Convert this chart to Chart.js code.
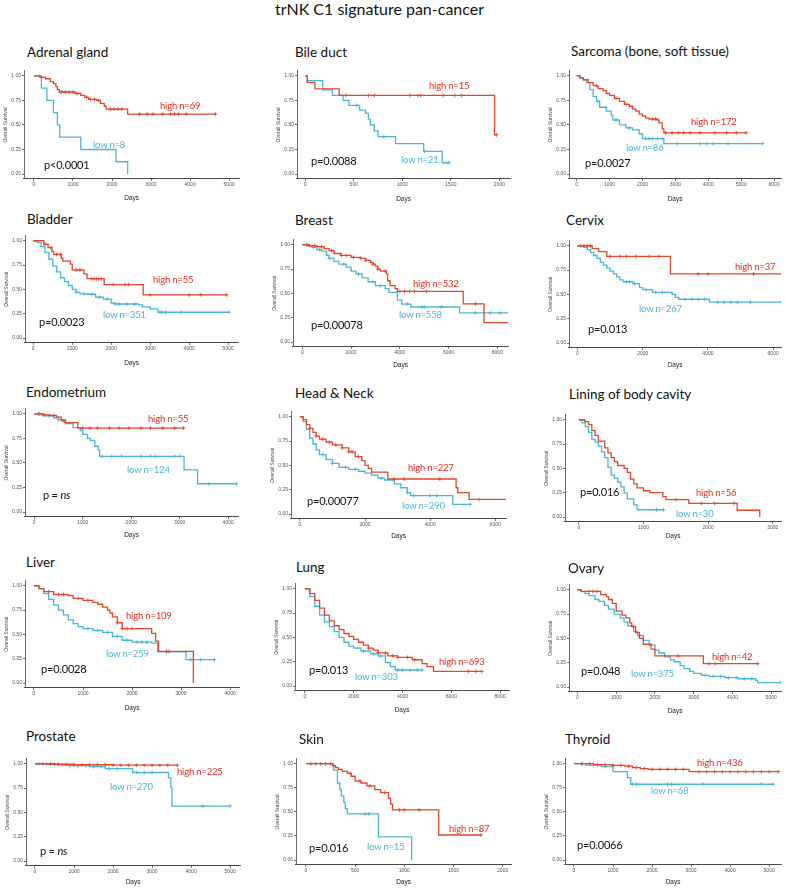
<!DOCTYPE html>
<html><head><meta charset="utf-8">
<script src="https://cdn.jsdelivr.net/npm/chart.js@4/dist/chart.umd.min.js"></script>
<style>
html,body{margin:0;padding:0;background:#fff;}
#page{position:relative;width:786px;height:889px;overflow:hidden;background:#fff;}
.t{position:absolute;white-space:nowrap;line-height:1;transform:translateY(-50%);font-family:Lato,'Open Sans',sans-serif;}
canvas{position:absolute;}
</style></head><body><div id="page"></div>
<script>
// ---------- DATA ----------
const mainTitle = 'trNK C1 signature pan-cancer';
const panelTitles = ['Adrenal gland','Bile duct','Sarcoma (bone, soft tissue)','Bladder','Breast','Cervix','Endometrium','Head & Neck','Lining of body cavity','Liver','Lung','Ovary','Prostate','Skin','Thyroid'];
const highLabels = ['high n=69','high n=15','high n=172','high n=55','high n=532','high n=37','high n=55','high n=227','high n=56','high n=109','high n=693','high n=42','high n=225','high n=87','high n=436'];
const lowLabels = ['low n=8','low n=21','low n=86','low n=351','low n=558','low n=267','low n=124','low n=290','low n=30','low n=259','low n=303','low n=375','low n=270','low n=15','low n=68'];
const pLabels = ['p<0.0001','p=0.0088','p=0.0027','p=0.0023','p=0.00078','p=0.013','p = ns','p=0.00077','p=0.016','p=0.0028','p=0.013','p=0.048','p = ns','p=0.016','p=0.0066'];
const yTicks = [0, 0.25, 0.5, 0.75, 1];
const xTicks = [
  [0,1000,2000,3000,4000,5000],[0,500,1000,1500,2000],[0,1000,2000,3000,4000,5000,6000],
  [0,1000,2000,3000,4000,5000],[0,2000,4000,6000,8000],[0,2000,4000,6000],
  [0,1000,2000,3000,4000],[0,2000,4000,6000],[0,1000,2000,3000],
  [0,1000,2000,3000,4000],[0,2000,4000,6000,8000],[0,1000,2000,3000,4000,5000],
  [0,1000,2000,3000,4000,5000],[0,500,1000,1500,2000],[0,1000,2000,3000,4000,5000]
];

const adrenalHigh = [[0,1],[150,0.985],[300,0.97],[420,0.94],[500,0.92],[560,0.89],[600,0.86],[650,0.835],[1050,0.82],[1200,0.80],[1300,0.78],[1400,0.76],[1600,0.75],[1700,0.72],[1800,0.69],[1850,0.66],[2400,0.61],[4650,0.61]];
const adrenalHighCens = [200,700,800,900,1000,1100,1350,1450,1550,1650,1950,2050,2150,2250,2700,2900,3050,3300,3500,3600,3700,3900,4650];
const adrenalLow = [[0,1],[190,0.875],[330,0.75],[500,0.625],[600,0.5],[660,0.375],[1200,0.25],[2100,0.125],[2400,0]];
const adrenalLowCens = [];

const bileHigh = [[0,1],[20,0.933],[100,0.867],[350,0.80],[1950,0.40],[1970,0.40]];
const bileHighCens = [420,650,710,1080,1160,1190,1420,1540,1610,1970];
const bileLow = [[0,1],[20,0.952],[180,0.857],[280,0.80],[390,0.75],[450,0.70],[560,0.65],[620,0.62],[650,0.56],[670,0.50],[710,0.44],[750,0.38],[930,0.31],[1220,0.23],[1410,0.115],[1480,0.115]];
const bileLowCens = [530,810,1230,1480];

const sarcomaHigh = [[0,1],[100,0.98],[200,0.96],[350,0.93],[500,0.90],[650,0.87],[800,0.85],[900,0.82],[1000,0.80],[1150,0.77],[1300,0.74],[1450,0.71],[1600,0.69],[1700,0.66],[1800,0.64],[1900,0.61],[2000,0.59],[2100,0.57],[2200,0.56],[2450,0.55],[2500,0.52],[2600,0.46],[2650,0.42],[5150,0.42]];
const sarcomaHighCens = [600,1200,1500,2300,2400,2700,2900,3100,3250,3450,3750,4200,4550,4850,5150];
const sarcomaLow = [[0,1],[100,0.98],[200,0.96],[300,0.93],[400,0.86],[500,0.79],[600,0.74],[700,0.68],[900,0.64],[1050,0.60],[1100,0.55],[1300,0.50],[1500,0.47],[1700,0.45],[1900,0.41],[2000,0.36],[2650,0.31],[5650,0.31]];
const sarcomaLowCens = [650,1200,1600,2100,2200,2300,2450,2600,3050,3750,3950,4150,4600,5650];

const bladderHigh = [[0,1],[270,0.966],[380,0.93],[480,0.89],[520,0.86],[720,0.82],[760,0.79],[950,0.76],[1000,0.70],[1300,0.66],[1380,0.61],[1820,0.55],[2820,0.444],[4960,0.444]];
const bladderHighCens = [300,450,600,700,1100,1200,1500,1560,1620,1680,1740,2050,2350,2450,3000,4000,4300,4960];
const bladderLow = [[0,1],[100,0.98],[200,0.94],[300,0.88],[400,0.81],[500,0.74],[600,0.68],[700,0.62],[800,0.58],[900,0.54],[1000,0.50],[1100,0.47],[1200,0.455],[1400,0.45],[1600,0.42],[1800,0.40],[2000,0.36],[2100,0.35],[2700,0.34],[2800,0.32],[3000,0.30],[3200,0.265],[5020,0.265]];
const bladderLowCens = [1100,1300,1500,1700,1900,2100,2200,2400,2600,3250,3300,3400,3800,5020];

const breastHigh = [[0,1],[300,0.99],[600,0.98],[900,0.96],[1100,0.94],[1300,0.91],[1600,0.89],[2000,0.87],[2400,0.86],[2600,0.84],[2800,0.82],[2900,0.80],[3000,0.78],[3100,0.75],[3200,0.73],[3450,0.70],[3500,0.63],[3600,0.58],[3800,0.55],[3900,0.52],[6600,0.393],[7450,0.20],[8440,0.20]];
const breastHighCens = [200,500,800,1200,1600,1800,2100,2400,2600,2900,3100,3400,4000,4200,4400,4600,5100,7100];
const breastLow = [[0,1],[200,0.99],[400,0.97],[600,0.95],[800,0.935],[1000,0.89],[1100,0.86],[1300,0.83],[1500,0.80],[1800,0.77],[2000,0.73],[2200,0.70],[2450,0.66],[2700,0.62],[3000,0.58],[3400,0.55],[3550,0.51],[3900,0.43],[4080,0.39],[4450,0.36],[6450,0.30],[8440,0.30]];
const breastLowCens = [300,700,1100,1700,2300,2900,3200,4300,4900,5000,5700,7100,7700,8100];

const cervixHigh = [[0,1],[450,0.97],[650,0.94],[900,0.89],[2850,0.71],[6250,0.71]];
const cervixHighCens = [100,200,300,400,1000,1300,1500,1800,2200,2500,3700,4000,5400];
const cervixLow = [[0,1],[200,0.98],[300,0.96],[400,0.93],[500,0.90],[600,0.87],[700,0.83],[800,0.80],[900,0.77],[1000,0.74],[1100,0.71],[1200,0.68],[1300,0.65],[1400,0.63],[1700,0.61],[1900,0.57],[2000,0.55],[2300,0.52],[2900,0.50],[3000,0.47],[3100,0.45],[4050,0.42],[6250,0.42]];
const cervixLowCens = [1500,1600,1750,2100,2400,2600,3300,3500,3700,3900,4300,4500,4700,4900,5300,6250];

const endoHigh = [[0,1],[150,0.99],[320,0.983],[460,0.966],[560,0.93],[630,0.91],[900,0.855],[3080,0.855]];
const endoHighCens = [100,200,400,600,1000,1150,1300,1550,1750,1950,2200,2400,2650,2900,3080];
const endoLow = [[0,1],[200,0.98],[400,0.96],[500,0.94],[650,0.90],[800,0.86],[950,0.83],[1000,0.79],[1100,0.75],[1150,0.73],[1250,0.67],[1320,0.63],[1350,0.566],[3090,0.43],[3370,0.288],[4170,0.288]];
const endoLowCens = [100,300,500,1400,1600,1800,2200,2400,2500,2900,3000,3600,4170];

const hnHigh = [[0,1],[100,0.97],[200,0.92],[300,0.88],[400,0.84],[500,0.80],[600,0.77],[800,0.74],[1000,0.71],[1300,0.68],[1500,0.64],[1700,0.59],[1900,0.55],[2000,0.50],[2100,0.47],[2200,0.43],[2700,0.36],[4800,0.27],[4850,0.22],[5200,0.15],[6340,0.15]];
const hnHighCens = [300,500,700,900,1100,1300,1500,1600,1800,2900,3200,4300,5500];
const hnLow = [[0,1],[100,0.95],[200,0.87],[300,0.78],[400,0.72],[500,0.66],[600,0.61],[800,0.56],[1000,0.52],[1200,0.48],[1500,0.46],[1800,0.44],[2000,0.42],[2200,0.40],[2400,0.37],[2600,0.35],[2900,0.31],[3100,0.27],[3300,0.22],[3400,0.19],[4700,0.10],[5230,0.10]];
const hnLowCens = [700,1000,1400,1700,2500,3300,3500,4000,4200,5230];

const liningHigh = [[0,1],[90,0.98],[150,0.95],[200,0.89],[250,0.84],[300,0.78],[400,0.71],[450,0.66],[500,0.61],[550,0.57],[600,0.53],[700,0.50],[750,0.46],[800,0.39],[850,0.34],[900,0.30],[1000,0.27],[1100,0.25],[1300,0.21],[1350,0.18],[1700,0.14],[2450,0.07],[2800,0]];
const liningHighCens = [1500,1900,2100,2400];
const liningLow = [[0,1],[50,0.967],[100,0.93],[150,0.87],[200,0.80],[250,0.77],[300,0.73],[350,0.67],[400,0.61],[450,0.51],[500,0.43],[550,0.40],[600,0.36],[650,0.31],[700,0.245],[750,0.187],[850,0.126],[900,0.075],[1310,0.075]];
const liningLowCens = [1200,1310];

const liverHigh = [[0,1],[100,0.97],[200,0.94],[400,0.91],[700,0.90],[800,0.87],[1000,0.85],[1200,0.83],[1300,0.81],[1400,0.78],[1500,0.75],[1550,0.72],[1600,0.68],[1700,0.62],[1800,0.56],[2400,0.51],[2480,0.43],[2540,0.325],[3250,0]];
const liverHighCens = [300,500,600,900,1100,1700,1800,1900,2000,2700,2750];
const liverLow = [[0,1],[100,0.97],[200,0.92],[300,0.86],[400,0.80],[500,0.75],[600,0.70],[700,0.65],[800,0.61],[900,0.58],[1000,0.56],[1200,0.54],[1400,0.52],[1600,0.48],[1800,0.44],[2000,0.42],[2400,0.41],[2520,0.32],[3100,0.24],[3680,0.24]];
const liverLowCens = [1100,1300,1500,1700,1900,2100,2200,2300,2700,3200,3400,3680];

const lungHigh = [[0,1],[200,0.95],[400,0.88],[600,0.80],[800,0.73],[1000,0.67],[1200,0.62],[1400,0.58],[1600,0.54],[1800,0.51],[2000,0.48],[2200,0.45],[2400,0.42],[2600,0.39],[2800,0.37],[3000,0.34],[3400,0.31],[3800,0.295],[4400,0.27],[4800,0.23],[5000,0.20],[5270,0.15],[7245,0.15]];
const lungHighCens = [2600,3000,3300,3600,3800,4200,4500,6700,7000,7245];
const lungLow = [[0,1],[200,0.92],[400,0.82],[600,0.73],[800,0.66],[1000,0.61],[1200,0.56],[1400,0.50],[1600,0.45],[1800,0.41],[2000,0.39],[2300,0.36],[2700,0.33],[3000,0.31],[3300,0.24],[3500,0.20],[3700,0.165],[4800,0.165]];
const lungLowCens = [2400,2800,3100,3800,4000,4300,4600,4800];

const ovaryHigh = [[0,1],[100,0.983],[600,0.95],[750,0.93],[800,0.90],[900,0.86],[1000,0.78],[1150,0.74],[1250,0.71],[1350,0.66],[1400,0.62],[1500,0.56],[1600,0.50],[1700,0.44],[1900,0.39],[2000,0.32],[3250,0.24],[4650,0.24]];
const ovaryHighCens = [300,400,500,2600,3400,3550,4650];
const ovaryLow = [[0,1],[100,0.98],[200,0.96],[300,0.94],[450,0.90],[550,0.88],[700,0.84],[800,0.80],[950,0.75],[1100,0.71],[1200,0.67],[1300,0.63],[1450,0.57],[1550,0.53],[1700,0.48],[1850,0.43],[2000,0.38],[2100,0.35],[2250,0.31],[2400,0.28],[2500,0.26],[2650,0.22],[2750,0.19],[2900,0.16],[3000,0.14],[3200,0.12],[3400,0.11],[3800,0.096],[4150,0.085],[4600,0.068],[4650,0.045],[5250,0.045]];
const ovaryLowCens = [3300,3500,3700,3900,4100,4300,4500,5250];

const prostateHigh = [[0,1],[500,0.995],[1000,0.99],[2000,0.985],[3650,0.985]];
const prostateHighCens = [200,400,600,800,1000,1200,1400,1600,1800,2000,2200,2400,2600,2800,3000,3200,3400,3650];
const prostateLow = [[0,1],[300,0.995],[600,0.99],[800,0.98],[1400,0.97],[1800,0.95],[2500,0.91],[3420,0.855],[3480,0.755],[3510,0.565],[5000,0.565]];
const prostateLowCens = [100,300,500,700,900,1100,1300,1500,1700,1900,2100,2600,2800,3000,4300,5000];

const skinHigh = [[0,1],[270,0.98],[300,0.96],[330,0.94],[370,0.92],[420,0.90],[460,0.87],[500,0.82],[560,0.80],[620,0.77],[700,0.73],[760,0.70],[840,0.64],[860,0.58],[880,0.52],[1350,0.26],[1780,0.26]];
const skinHighCens = [50,100,150,200,250,450,550,650,800,950,1000,1150,1780];
const skinLow = [[0,1],[280,0.933],[320,0.80],[345,0.73],[360,0.667],[385,0.60],[400,0.533],[420,0.48],[737,0.24],[1075,0]];
const skinLowCens = [600,640];

const thyroidHigh = [[0,1],[500,0.99],[1000,0.983],[1300,0.975],[1500,0.96],[1700,0.95],[1900,0.942],[2950,0.918],[5230,0.918]];
const thyroidHighCens = [200,400,600,800,1000,1200,1400,1600,1800,2000,2200,2400,2600,2800,3200,3400,3600,3800,4000,4200,4400,4600,4800,5000,5230];
const thyroidLow = [[0,1],[300,0.985],[700,0.97],[1000,0.918],[1365,0.856],[1454,0.787],[5100,0.787]];
const thyroidLowCens = [200,500,800,1500,1600,2400,2500,3300,4800,5100];

const curves = [
  [adrenalHigh, adrenalHighCens, adrenalLow, adrenalLowCens],
  [bileHigh, bileHighCens, bileLow, bileLowCens],
  [sarcomaHigh, sarcomaHighCens, sarcomaLow, sarcomaLowCens],
  [bladderHigh, bladderHighCens, bladderLow, bladderLowCens],
  [breastHigh, breastHighCens, breastLow, breastLowCens],
  [cervixHigh, cervixHighCens, cervixLow, cervixLowCens],
  [endoHigh, endoHighCens, endoLow, endoLowCens],
  [hnHigh, hnHighCens, hnLow, hnLowCens],
  [liningHigh, liningHighCens, liningLow, liningLowCens],
  [liverHigh, liverHighCens, liverLow, liverLowCens],
  [lungHigh, lungHighCens, lungLow, lungLowCens],
  [ovaryHigh, ovaryHighCens, ovaryLow, ovaryLowCens],
  [prostateHigh, prostateHighCens, prostateLow, prostateLowCens],
  [skinHigh, skinHighCens, skinLow, skinLowCens],
  [thyroidHigh, thyroidHighCens, thyroidLow, thyroidLowCens]
];

// ---------- LAYOUT (pixel geometry, separate from data) ----------
const layout = [
 {title:[27,53], ax:[24,240], y1:75, y0:174, days:198, xr:[-255,5255], hi:[160,106], lo:[93,145], p:[44,164]},
 {title:[295,53], ax:[297,511], y1:75, y0:174, days:199, xr:[-85,2110], hi:[429,86], lo:[401,160], p:[311,160]},
 {title:[571,52], ax:[569,782], y1:75, y0:174, days:199, xr:[-233,6212], hi:[691,122], lo:[626,148], p:[585,162]},
 {title:[27,220], ax:[25,239], y1:240, y0:338, days:363, xr:[-212,5255], hi:[153,280], lo:[103,315], p:[39,321]},
 {title:[295,221], ax:[293,509], y1:244, y0:342, days:365, xr:[-380,8440], hi:[413,284], lo:[399,315], p:[311,324]},
 {title:[566,221], ax:[569,782], y1:245, y0:343, days:365, xr:[-260,6244], hi:[735,267], lo:[639,309], p:[588,328]},
 {title:[26,393], ax:[25,239], y1:413, y0:512, days:535, xr:[-190,4205], hi:[148,419], lo:[127,470], p:[43,494]},
 {title:[295,394], ax:[291,507], y1:416, y0:514, days:536, xr:[-275,6336], hi:[408,468], lo:[402,506], p:[307,500]},
 {title:[569,395], ax:[565,782], y1:419, y0:517, days:536, xr:[-215,3130], hi:[696,493], lo:[676,514], p:[580,491]},
 {title:[26,563], ax:[25,240], y1:585, y0:683, days:708, xr:[-183,4183], hi:[126,616], lo:[106,654], p:[41,668]},
 {title:[296,568], ax:[295,510], y1:588, y0:686, days:710, xr:[-408,8367], hi:[439,662], lo:[355,677], p:[309,669]},
 {title:[568,569], ax:[569,782], y1:589, y0:687, days:711, xr:[-218,5256], hi:[712,657], lo:[631,674], p:[581,670]},
 {title:[26,737], ax:[26,241], y1:763, y0:861, days:882, xr:[-230,5255], hi:[177,772], lo:[110,787], p:[40,850]},
 {title:[299,740], ax:[296,512], y1:763, y0:860, days:882, xr:[-101,2086], hi:[449,829], lo:[367,847], p:[309,847]},
 {title:[565,740], ax:[565,782], y1:763, y0:860, days:882, xr:[-230,5306], hi:[697,763], lo:[651,791], p:[577,844]}
];

const RED = '#e6462c', BLUE = '#4bb6d6', RED_T = '#f2291e', BLUE_T = '#4ab8de';
const TICKFONT = "'Liberation Sans', Arial, sans-serif";

// ---------- BUILD ----------
const page = document.getElementById('page');
function addText(txt, x, y, size, color, extra){
  const d = document.createElement('div');
  d.className = 't';
  d.style.left = x + 'px'; d.style.top = y + 'px';
  d.style.fontSize = size + 'px'; d.style.color = color;
  if (extra) Object.assign(d.style, extra);
  if (txt.endsWith(' ns')) {
    d.appendChild(document.createTextNode(txt.slice(0, -2)));
    const i = document.createElement('i'); i.textContent = 'ns'; d.appendChild(i);
  } else d.textContent = txt;
  page.appendChild(d);
  return d;
}
function stepAt(curve, t){
  let v = curve[0][1];
  for (const [x, y] of curve) { if (x <= t) v = y; else break; }
  return v;
}

addText(mainTitle, 275, 9, 16, '#111');

const yW = 21, padRight = 4, padTop = 4;
layout.forEach((g, i) => {
  const [high, highC, low, lowC] = curves[i];
  const h = g.y0 - g.y1;
  const chartTop = g.y1 - 0.05 * h;
  const chartBottom = g.y0 + 0.05 * h;
  const cLeft = g.ax[0] - yW;
  const cTop = Math.round(chartTop - padTop);
  const cW = g.ax[1] - g.ax[0] + yW + padRight;
  const cH = Math.round(g.days + 4 - cTop);
  const xH = (g.days + 4) - chartBottom;
  const cv = document.createElement('canvas');
  cv.width = cW; cv.height = cH;
  cv.style.left = cLeft + 'px'; cv.style.top = cTop + 'px';
  cv.style.width = cW + 'px'; cv.style.height = cH + 'px';
  page.appendChild(cv);
  const chartTopPad = chartTop - cTop;

  const lineDs = (curve, color, label) => ({
    label, data: curve.map(([x, y]) => ({x, y})), stepped: 'before',
    borderColor: color, borderWidth: 1.3, pointRadius: 0, fill: false, tension: 0
  });
  const censDs = (cens, curve, color, label) => ({
    label, data: cens.map(t => ({x: t, y: stepAt(curve, t)})), showLine: false,
    pointStyle: 'cross', pointRadius: 1.9, borderColor: color, borderWidth: 0.9, backgroundColor: color
  });

  new Chart(cv, {
    type: 'line',
    data: { datasets: [
      censDs(highC, high, RED, 'high censored'),
      lineDs(high, RED, 'high'),
      censDs(lowC, low, BLUE, 'low censored'),
      lineDs(low, BLUE, 'low')
    ]},
    options: {
      responsive: false, animation: false, devicePixelRatio: 1,
      layout: { padding: { top: chartTopPad, right: padRight, left: 0, bottom: 0 } },
      plugins: { legend: { display: false }, tooltip: { enabled: false } },
      scales: {
        x: {
          type: 'linear', min: g.xr[0], max: g.xr[1],
          afterBuildTicks: s => { s.ticks = xTicks[i].map(v => ({value: v})); },
          afterFit: s => { s.height = xH; s.paddingLeft = 0; s.paddingRight = 0; },
          grid: { drawOnChartArea: false, drawTicks: true, tickLength: 2, color: '#444', lineWidth: 0.8 },
          border: { display: true, color: '#4a4a4a', width: 1.1 },
          ticks: { font: { size: 5, family: TICKFONT }, color: '#555', padding: 1, maxRotation: 0, autoSkip: false,
                   callback: v => String(v) },
          title: { display: true, text: 'Days', font: { size: 6.5, family: TICKFONT }, color: '#222', padding: 0 }
        },
        y: {
          min: -0.05, max: 1.05,
          afterBuildTicks: s => { s.ticks = yTicks.map(v => ({value: v})); },
          afterFit: s => { s.width = yW; s.paddingTop = 0; s.paddingBottom = 0; },
          grid: { drawOnChartArea: false, drawTicks: true, tickLength: 2, color: '#444', lineWidth: 0.8 },
          border: { display: true, color: '#6a6a6a', width: 1 },
          ticks: { font: { size: 5, family: TICKFONT }, color: '#555', padding: 1, autoSkip: false,
                   callback: v => Number(v).toFixed(2) },
          title: { display: true, text: 'Overall Survival', font: { size: 5, family: TICKFONT }, color: '#444', padding: 0 }
        }
      }
    }
  });

  addText(panelTitles[i], g.title[0], g.title[1], 13.5, '#111');
  addText(highLabels[i], g.hi[0], g.hi[1], 9.5, RED_T, {letterSpacing:'-0.2px'});
  addText(lowLabels[i], g.lo[0], g.lo[1], 9.5, BLUE_T, {letterSpacing:'-0.2px'});
  addText(pLabels[i], g.p[0], g.p[1], 11, '#111', {letterSpacing:'-0.2px'});
});
</script></body></html>
